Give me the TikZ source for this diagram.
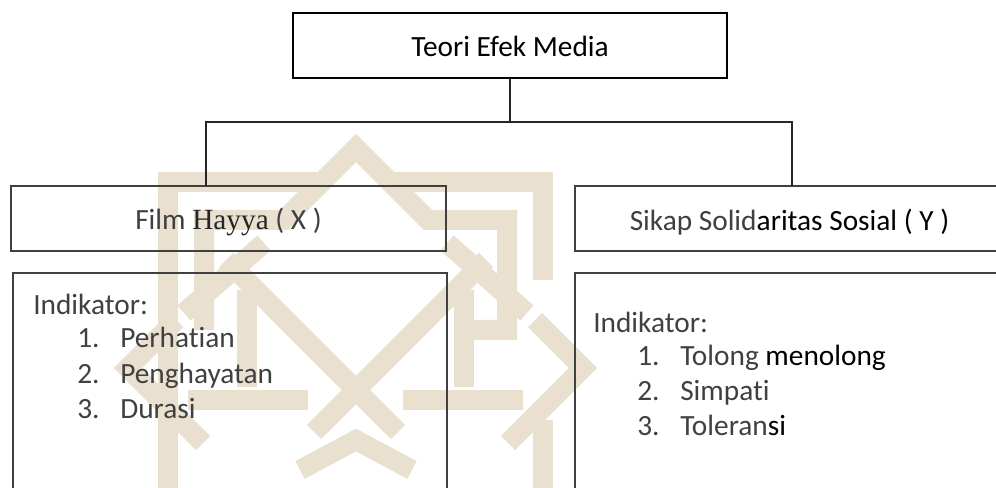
\documentclass[tikz,border=0pt]{standalone}
\usepackage{fontspec}
\setmainfont{Carlito}[Ligatures=NoCommon]
\newfontfamily\hayyafont{Liberation Serif}
\definecolor{wm}{RGB}{233,224,207}
\definecolor{ink}{RGB}{64,64,64}
\begin{document}
\begin{tikzpicture}[x=0.75pt,y=-0.75pt,
  box/.style={draw=ink, line width=1.1pt, inner sep=0pt, outer sep=0pt},
  topbox/.style={box, draw=black, line width=1.5pt},
  lbl/.style={inner sep=0pt, font=\fontsize{22pt}{27pt}\selectfont, text=ink},
  conn/.style={draw=black!85, line width=0.8pt},
  wmband/.style={draw=wm, line width=15pt, line join=miter}]
\useasboundingbox (0,0) rectangle (996,488);
\clip (0,0) rectangle (996,488);
\fill[white] (0,0) rectangle (996,488);

% watermark (approximate)
\draw[wmband] (168,500) -- (168,182) -- (318,182);
\draw[wmband] (394,182) -- (543,182) -- (543,280);
\draw[wmband] (204,330) -- (204,220) -- (284,220) -- (356,148) -- (428,220) -- (507,220) -- (507,330) -- (470,330);
\draw[wmband] (226,260) -- (398,432);
\draw[wmband] (486,260) -- (314,432);
\draw[wmband] (447,243) -- (527,313);
\draw[wmband] (264,243) -- (184,313);
\draw[wmband] (464,290) -- (464,387);
\draw[wmband] (247,290) -- (247,387);
\draw[wmband] (188,400) -- (308,400);
\draw[wmband] (403,400) -- (523,400);
\draw[wmband] (535,320) -- (583,368) -- (508,443);
\draw[wmband] (176,320) -- (128,368) -- (203,443);
\draw[wmband] (543,420) -- (543,500);
\draw[wmband] (300,470) -- (356,440) -- (412,470);

% boxes
\node[topbox, minimum width=325.5pt, minimum height=48.75pt] (top) at (510,45.5) {};
\node[box, minimum width=326.25pt, minimum height=48.75pt] (film) at (228.5,218.5) {};
\node[box, minimum width=321.75pt, minimum height=48.75pt] (sikap) at (789.5,218.5) {};
\node[box, minimum width=325.5pt, minimum height=225pt] (indx) at (230,423) {};
\node[box, minimum width=321.75pt, minimum height=225pt] (indy) at (789.5,423) {};

% labels
\node[lbl, anchor=base, text=black] (toptxt) at (510,56.7) {Teori Efek Media};
\node[lbl, anchor=base] (filmtxt) at (228.5,230) {Film {\hayyafont\color{black!85}Hayya} ( X )};
\node[lbl, anchor=base] (sikaptxt) at (789.5,231) {Sikap Solid\textcolor{black}{aritas Sosial ( Y )}};

\node[lbl, anchor=base west] (xhead) at (33,315) {Indikator:};
\node[lbl, anchor=base west] (xn1) at (77,348) {1.};
\node[lbl, anchor=base west] (xi1) at (120,348) {Perhatian};
\node[lbl, anchor=base west] (xn2) at (77,383) {2.};
\node[lbl, anchor=base west] (xi2) at (120,383) {Penghayatan};
\node[lbl, anchor=base west] (xn3) at (77,418) {3.};
\node[lbl, anchor=base west] (xi3) at (120,418) {Durasi};

\node[lbl, anchor=base west] (yhead) at (593,332) {Indikator:};
\node[lbl, anchor=base west] (yn1) at (637,365) {1.};
\node[lbl, anchor=base west] (yi1) at (680,365) {Tolong \textcolor{black}{menolong}};
\node[lbl, anchor=base west] (yn2) at (637,400) {2.};
\node[lbl, anchor=base west] (yi2) at (680,400) {Simpati};
\node[lbl, anchor=base west] (yn3) at (637,435) {3.};
\node[lbl, anchor=base west] (yi3) at (680,435) {Toleran\textcolor{black}{si}};

% connectors
\coordinate (jl) at (206,122);
\coordinate (jr) at (792,122);
\draw[conn] (top.south) -- (top.south |- jl);
\draw[conn] (film.north -| jl) -- (jl) -- (jr) -- (sikap.north -| jr);
\end{tikzpicture}
\end{document}
